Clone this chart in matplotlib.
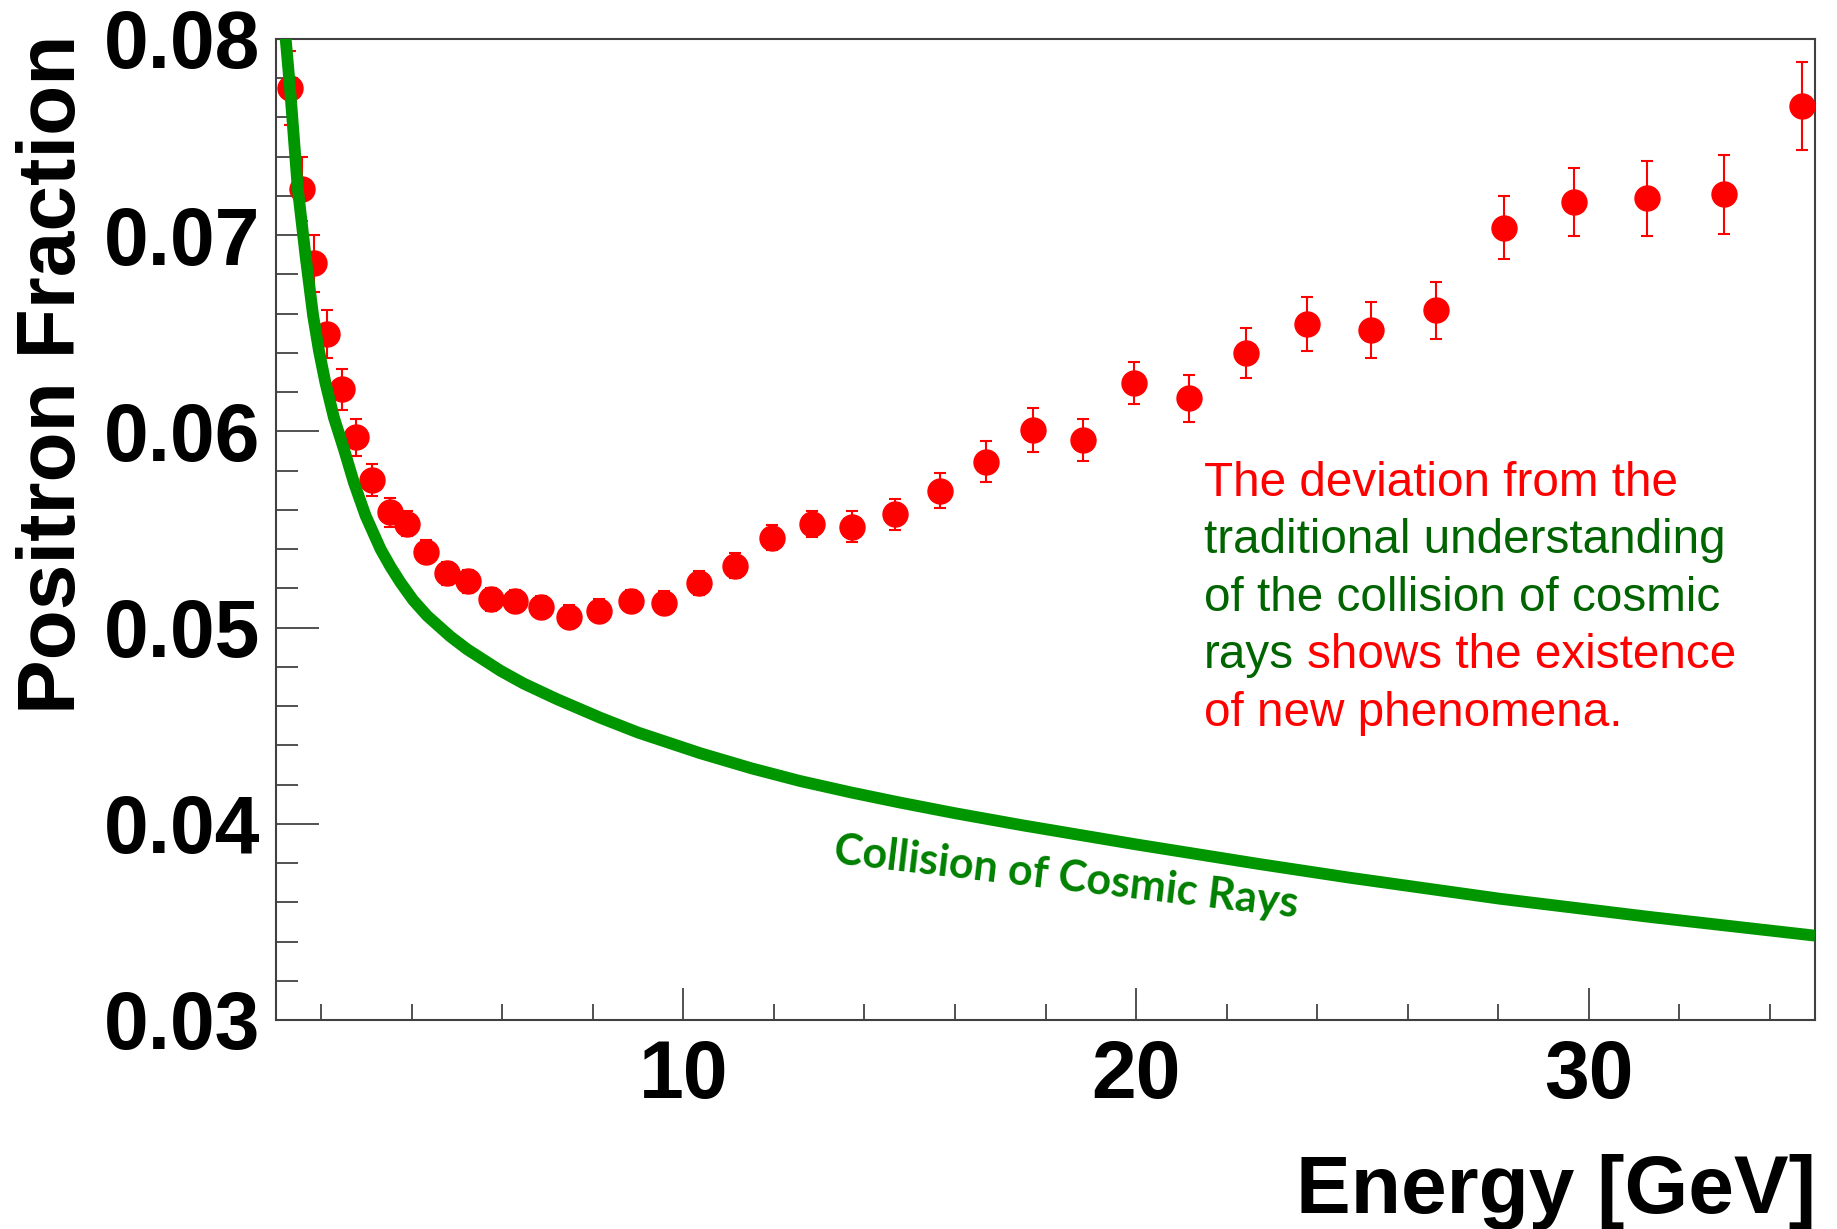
import numpy as np
import matplotlib
matplotlib.use('Agg')
import matplotlib.pyplot as plt
from matplotlib.ticker import MultipleLocator, FormatStrFormatter

# Measured positron fraction with symmetric errors
energy = [1.32, 1.58, 1.84, 2.13, 2.45, 2.77, 3.12, 3.51, 3.90, 4.32,
          4.77, 5.24, 5.74, 6.27, 6.86, 7.48, 8.14, 8.85, 9.58, 10.35,
          11.14, 11.96, 12.84, 13.73, 14.68, 15.66, 16.68, 17.73, 18.82, 19.96,
          21.16, 22.43, 23.78, 25.18, 26.62, 28.13, 29.68, 31.29, 32.98, 34.71]
fraction = [0.0775, 0.07236, 0.06856, 0.06497, 0.06215, 0.05969, 0.05753, 0.05587, 0.0553, 0.05386,
            0.05276, 0.05236, 0.05145, 0.05135, 0.05105, 0.05055, 0.05086, 0.05136, 0.05127, 0.05226,
            0.05316, 0.05458, 0.05528, 0.05514, 0.05577, 0.05698, 0.05846, 0.06007, 0.05956, 0.06248,
            0.06170, 0.06400, 0.06549, 0.06517, 0.06617, 0.07038, 0.07168, 0.07188, 0.07208, 0.07659]
fraction_err = [0.0019, 0.00163, 0.00143, 0.00123, 0.00105, 0.00093, 0.0008, 0.00075, 0.00065, 0.00058,
                0.00058, 0.00058, 0.00058, 0.00058, 0.00058, 0.00058, 0.00058, 0.00058, 0.00058, 0.0006,
                0.00064, 0.00065, 0.00068, 0.0008, 0.0008, 0.00089, 0.00103, 0.00112, 0.00107, 0.00107,
                0.0012, 0.00129, 0.00138, 0.00143, 0.00146, 0.0016, 0.00173, 0.00191, 0.002, 0.00223]

# Expected fraction from secondary production (cosmic ray collisions)
model_energy = [1.21, 1.31, 1.48, 1.65, 1.82, 1.95, 2.09, 2.28, 2.50, 2.72,
                2.98, 3.31, 3.53, 3.75, 4.03, 4.34, 4.85, 5.22, 5.96, 6.47,
                7.21, 8.17, 9.0, 10.37, 11.5, 12.58, 13.7, 14.79, 16.0, 17.5,
                20.0, 22.72, 24.73, 28.04, 31.36, 35.0]
model_fraction = [0.0801, 0.0775, 0.0724, 0.0690, 0.0659, 0.0641, 0.0625, 0.0607, 0.0591, 0.0574,
                  0.0557, 0.0540, 0.0531, 0.0523, 0.0514, 0.0506, 0.04955, 0.0489, 0.0478, 0.04715,
                  0.04635, 0.0454, 0.04465, 0.0436, 0.04283, 0.04218, 0.0416, 0.04108, 0.04054, 0.03992,
                  0.03895, 0.03795, 0.03725, 0.03618, 0.03525, 0.0343]

x_ticks = [10, 20, 30]
y_ticks = [0.03, 0.04, 0.05, 0.06, 0.07, 0.08]

RED = '#ff0000'
DARK_GREEN = '#006400'
CURVE_GREEN = '#009600'

W, H = 1837, 1229
fig = plt.figure(figsize=(W / 100, H / 100), dpi=100)
ax = fig.add_axes([276 / W, 1 - 1020 / H, (1815 - 276) / W, (1020 - 39) / H])

ax.errorbar(energy, fraction, yerr=fraction_err, fmt='o', color=RED, ms=18,
            elinewidth=1.5, capsize=4.3, capthick=1.5, zorder=3)
ax.plot(model_energy, model_fraction, color=CURVE_GREEN, lw=8.5,
        solid_capstyle='butt', solid_joinstyle='round', zorder=4)

ax.set_xlim(1, 35)
ax.set_ylim(0.03, 0.08)
ax.set_xticks(x_ticks)
ax.set_yticks(y_ticks)
ax.xaxis.set_minor_locator(MultipleLocator(2))
ax.yaxis.set_minor_locator(MultipleLocator(0.002))
ax.yaxis.set_major_formatter(FormatStrFormatter('%.2f'))

for s in ax.spines.values():
    s.set_linewidth(1.5)
    s.set_color('#404040')

ax.tick_params(axis='both', which='both', direction='in', color='#222222', width=1.1,
               top=False, right=False)
ax.tick_params(axis='y', which='major', length=31, pad=11.5)
ax.tick_params(axis='y', which='minor', length=16)
ax.tick_params(axis='x', which='major', length=23, pad=14)
ax.tick_params(axis='x', which='minor', length=11.5)
for lab in ax.get_xticklabels() + ax.get_yticklabels():
    lab.set_fontfamily('Liberation Sans')
    lab.set_fontweight('bold')
    lab.set_fontsize(58)

fig.text(92 / W, 1 - 35 / H, 'Positron Fraction', rotation=90, ha='right', va='top',
         family='Liberation Sans', weight='bold', fontsize=59)
fig.text(1816 / W, 1 - 1213 / H, 'Energy [GeV]', ha='right', va='baseline',
         family='Liberation Sans', weight='bold', fontsize=59)

ax.text(833 / W, 1 - 863 / H, 'Collision of Cosmic Rays', transform=fig.transFigure,
        rotation=-6.7, rotation_mode='anchor', ha='left', va='baseline',
        family='Lato', weight='bold', fontsize=31, color='#008000', zorder=5)

# multi-coloured note on the right
note_x = 1204 / W
baselines = [495.7, 553.3, 611.0, 668.3, 726.0]
note_kw = dict(family='Liberation Sans', fontsize=34.3, va='baseline', ha='left')
fig.text(note_x, 1 - baselines[0] / H, 'The deviation from the', color=RED, **note_kw)
fig.text(note_x, 1 - baselines[1] / H, 'traditional understanding', color=DARK_GREEN, **note_kw)
fig.text(note_x, 1 - baselines[2] / H, 'of the collision of cosmic', color=DARK_GREEN, **note_kw)
fig.text(note_x, 1 - baselines[4] / H, 'of new phenomena.', color=RED, **note_kw)

renderer = fig.canvas.get_renderer()
full = fig.text(note_x, 1 - baselines[3] / H, 'rays shows the existence', **note_kw)
full_w = full.get_window_extent(renderer).width
full.remove()
fig.text(note_x, 1 - baselines[3] / H, 'rays', color=DARK_GREEN, **note_kw)
kw = dict(note_kw, ha='right')
fig.text(note_x + full_w / W, 1 - baselines[3] / H, 'shows the existence', color=RED, **kw)

fig.savefig('out.png', dpi=100)
